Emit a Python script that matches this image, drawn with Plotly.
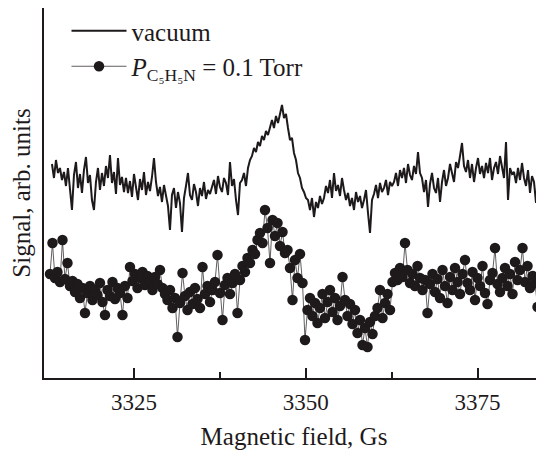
import numpy as np
import plotly.graph_objects as go

# Vacuum trace (signal, arb. units) on an even field sweep
vac_field_start, vac_field_stop = 3313.06, 3384.10
vacuum_signal = [
    214, 200, 218, 205, 210, 198,
    206, 192, 210, 186, 168, 203, 216, 190, 204, 185, 208, 221,
    195, 203, 178, 168, 196, 210, 188, 205, 192, 212, 200, 223, 195, 206, 184, 220, 193, 201, 186,
    200, 185, 197, 181, 204, 190, 178, 199, 188, 206, 183, 196, 187, 201, 220,
    196, 182, 191, 176, 193, 184,
    172, 148, 183, 190, 170, 186, 175, 146,
    180, 192, 205, 183, 178, 194, 186, 172, 190, 182, 196, 179, 188, 184,
    190, 198, 184, 202, 191, 186, 200, 195, 183, 216, 192, 199, 178, 163, 195,
    198, 205, 192, 210, 218,
    222, 230, 226, 236, 232, 242, 238, 247, 243, 252,
    258, 250, 262, 255, 266, 273, 260, 264,
    250, 238, 240, 225, 218, 205, 200, 190, 186, 180,
    178, 168, 180, 161, 176, 170, 182, 174,
    180, 192, 185, 198, 180, 205, 187, 193, 182, 200, 188, 178,
    185, 172, 180, 168, 186, 176, 182, 170, 178, 188, 165, 145, 178,
    184, 193, 180, 195, 186, 190, 198, 183, 196, 192,
    196, 205, 192, 208, 200, 210, 195, 214, 203, 198, 212, 204, 226, 205,
    200, 186, 198, 171, 194, 205, 190, 185, 200, 176, 196, 208, 192,
    200, 214, 205, 196, 216, 210, 222, 235, 212, 206, 218, 200, 214, 196, 210, 220, 204,
    212, 200, 215, 205, 220, 198, 210, 216, 204, 222, 212, 200, 236, 178, 210, 204,
    206, 195, 210, 198, 215, 200, 192, 208, 185, 202, 196, 175, 205, 198,
]

# Pyridine trace (signal, arb. units) on an even field sweep
pyr_field_start, pyr_field_stop = 3312.77, 3384.10
pyridine_signal = [
    104, 135, 100, 106, 96, 138, 99, 115, 92, 97,
    86, 94, 80, 90, 65, 85, 92, 78, 88, 83,
    95, 76, 63, 88, 82, 96, 79, 90, 85, 63,
    92, 80, 111, 97, 104, 90, 100, 106, 93, 102,
    96, 88, 101, 94, 108, 90, 84, 78, 88, 70,
    80, 41, 75, 105, 82, 68, 86, 74, 90, 79,
    70, 111, 84, 92, 76, 88, 96, 123, 85, 58,
    93, 100, 84, 95, 104, 65, 98, 112, 106, 120,
    115, 128, 124, 138, 145, 135, 168, 150, 115, 158,
    142, 155, 132, 146, 125, 128, 110, 78, 118, 100,
    124, 95, 38, 68, 80, 62, 75, 55, 70, 84,
    60, 76, 88, 66, 80, 58, 72, 101, 78, 62,
    74, 54, 68, 45, 58, 33, 50, 31, 56, 44,
    62, 70, 88, 60, 75, 84, 68, 96, 105, 98,
    110, 101, 135, 108, 95, 104, 92, 112, 100, 88,
    98, 65, 94, 104, 86, 99, 80, 108, 92, 75,
    101, 88, 110, 96, 84, 104, 118, 95, 88, 106,
    78, 100, 92, 112, 85, 74, 98, 105, 130, 94,
    86, 100, 110, 92, 104, 84, 116, 98, 108, 130,
    96, 112, 90, 102, 95, 71, 100,
]

x_ticks = [3325, 3350, 3375]
x_minor_ticks = [3337.5, 3362.5]
x_range = [3311.9, 3384.68]
y_range = [0, 370]

vac_field = np.linspace(vac_field_start, vac_field_stop, len(vacuum_signal))
pyr_field = np.linspace(pyr_field_start, pyr_field_stop, len(pyridine_signal))

ink = "#1e1a1b"
serif = "Liberation Serif, Times New Roman, serif"

fig = go.Figure()
fig.add_trace(go.Scatter(
    x=vac_field, y=vacuum_signal, mode="lines", name="vacuum",
    line=dict(color=ink, width=2),
))
fig.add_trace(go.Scatter(
    x=pyr_field, y=pyridine_signal, mode="lines+markers",
    name="<i>P</i><sub>C₅H₅N</sub> = 0.1 Torr",
    line=dict(color=ink, width=0.7),
    marker=dict(color=ink, size=10.5),
))

# page body has an 8px margin: size the figure so it fills the window exactly
fig.update_layout(
    width=536, height=446,
    margin=dict(l=36, r=0, t=0, b=76),
    paper_bgcolor="white", plot_bgcolor="white",
    font=dict(family=serif, size=24, color=ink),
    showlegend=True,
    legend=dict(
        x=0.045, y=1.0, xanchor="left", yanchor="top",
        bgcolor="rgba(0,0,0,0)", font=dict(size=25, family=serif),
        itemwidth=55, tracegroupgap=0,
    ),
    xaxis=dict(
        range=x_range, tickvals=x_ticks, ticks="inside", ticklen=10, tickwidth=1.5,
        tickcolor=ink, showline=True, linecolor=ink, linewidth=2, showgrid=False,
        zeroline=False, tickfont=dict(size=23, family=serif), automargin=False,
        ticklabelstandoff=2,
        minor=dict(tickvals=x_minor_ticks, ticks="inside", ticklen=6, tickwidth=1.5, tickcolor=ink),
        title=dict(text="Magnetic field, Gs", font=dict(size=25, family=serif), standoff=14),
    ),
    yaxis=dict(
        range=y_range, showticklabels=False, ticks="", showline=True, linecolor=ink,
        linewidth=2, showgrid=False, zeroline=False, automargin=False,
        title=dict(text="Signal, arb. units", font=dict(size=25, family=serif), standoff=18),
    ),
)

fig.write_html("out.html")
